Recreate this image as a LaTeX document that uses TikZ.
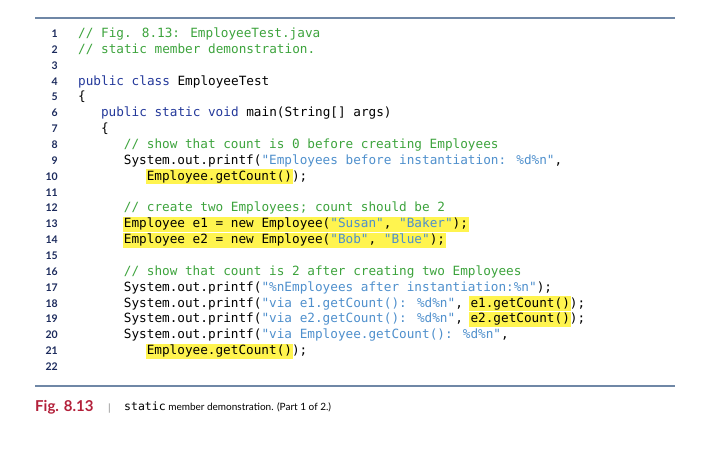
\documentclass[tikz,border=0pt]{standalone}
\usepackage{fontspec}
\setmainfont{Lato}
\newfontfamily\cf{DejaVu Sans Mono}
\newfontfamily\nf{Lato}
\definecolor{kw}{HTML}{23389A}
\definecolor{cm}{HTML}{3CA33C}
\definecolor{st}{HTML}{4E8FCC}
\definecolor{hlc}{HTML}{FFF44F}
\definecolor{rule}{HTML}{6F87A6}
\definecolor{lnc}{HTML}{1B2A5C}
\definecolor{figc}{HTML}{B3203A}
\newlength\cw
\newcommand\jK[1]{\textcolor{kw}{#1}}
\newcommand\jC[1]{\textcolor{cm}{#1}}
\newcommand\jS[1]{\textcolor{st}{#1}}
\newcommand\jI[1]{\hspace*{#1\cw}}
\newcommand\jHL[1]{{\setlength\fboxsep{1.2pt}\makebox[0pt][l]{\hspace*{-\fboxsep}\colorbox{hlc}{\vphantom{Ayg()}\phantom{#1}}}#1}}
\tikzset{code/.style={anchor=base west,inner sep=0pt,font=\fontsize{12.7pt}{14pt}\cf\setlength\cw{7.62pt}},
 lnum/.style={anchor=base east,inner sep=0pt,font=\fontsize{10.5pt}{12pt}\nf\bfseries,text=lnc}}
\begin{document}
\begin{tikzpicture}[x=1pt,y=-1pt]
\useasboundingbox (0,0) rectangle (708,449);
\draw[rule,line width=1.2pt] (35,18) -- (675,18);
\draw[rule,line width=1.2pt] (35,386) -- (675,386);
\foreach \i/\t in {
1/{\jC{// Fig. 8.13: EmployeeTest.java}},
2/{\jC{// static member demonstration.}},
3/{},
4/{\jK{public class} EmployeeTest},
5/{\{},
6/{\jI3\jK{public static void} main(String[] args)},
7/{\jI3\{},
8/{\jI6\jC{// show that count is 0 before creating Employees}},
9/{\jI6System.out.printf(\jS{"Employees before instantiation: \%d\%n"},},
10/{\jI9\jHL{Employee.getCount()});},
11/{},
12/{\jI6\jC{// create two Employees; count should be 2}},
13/{\jI6\jHL{Employee e1 = new Employee(\jS{"Susan"}, \jS{"Baker"});}},
14/{\jI6\jHL{Employee e2 = new Employee(\jS{"Bob"}, \jS{"Blue"});}},
15/{},
16/{\jI6\jC{// show that count is 2 after creating two Employees}},
17/{\jI6System.out.printf(\jS{"\%nEmployees after instantiation:\%n"});},
18/{\jI6System.out.printf(\jS{"via e1.getCount(): \%d\%n"}, \jHL{e1.getCount()});},
19/{\jI6System.out.printf(\jS{"via e2.getCount(): \%d\%n"}, \jHL{e2.getCount()});},
20/{\jI6System.out.printf(\jS{"via Employee.getCount(): \%d\%n"},},
21/{\jI9\jHL{Employee.getCount()});},
22/{}}{
  \pgfmathsetmacro\yy{33+15.86*(\i-1)+4.5}
  \node[lnum] (n\i) at (58,\yy) {\i};
  \node[code] (c\i) at (78,\yy) {\strut\t};
}
\node[anchor=base west,inner sep=0pt,font=\fontsize{15pt}{17pt}\bfseries,text=figc] (fig) at (35,411) {Fig. 8.13};
\node[anchor=base west,inner sep=0pt,font=\fontsize{15pt}{17pt},text=gray] (bar) at (108,411) {|};
\node[anchor=base west,inner sep=0pt,font=\fontsize{12.5pt}{15pt}] (cap) at (124,410) {{\cf\fontsize{11.5pt}{14pt}\selectfont static} member demonstration. (Part 1 of 2.)};
\end{tikzpicture}
\end{document}
